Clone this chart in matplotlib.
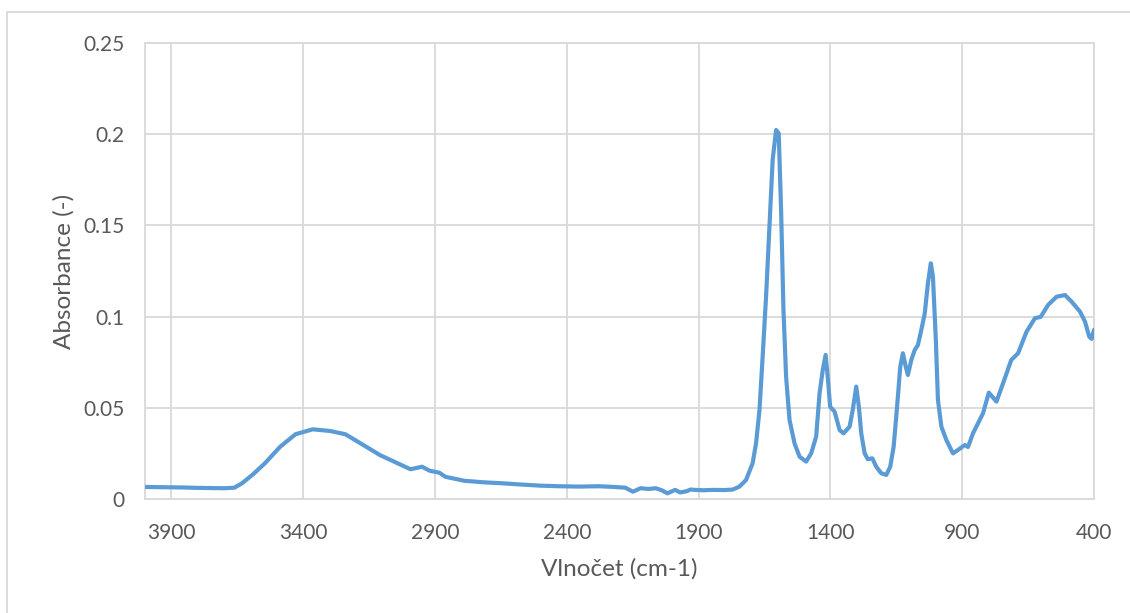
import matplotlib
matplotlib.use("Agg")
import matplotlib.pyplot as plt
from matplotlib.lines import Line2D

# FTIR absorbance spectrum
wavenumber = [
    4000, 3950, 3900, 3850, 3800, 3750, 3700, 3661, 3632, 3589, 3545, 3487,
    3429, 3364, 3298, 3240, 3182, 3109, 3036, 2993, 2949, 2920, 2883, 2861,
    2789, 2720, 2643, 2570, 2498, 2430, 2353, 2280, 2220, 2178, 2149, 2120,
    2090, 2062, 2040, 2018, 1989, 1970, 1947, 1930, 1916, 1880, 1844, 1800,
    1770, 1745, 1720, 1695, 1682, 1669, 1657, 1644, 1631, 1619, 1606, 1596,
    1587, 1578, 1568, 1555, 1536, 1517, 1492, 1473, 1454, 1441, 1429, 1418,
    1408, 1401, 1384, 1365, 1350, 1327, 1315, 1302, 1292, 1283, 1270, 1258,
    1241, 1226, 1207, 1188, 1173, 1160, 1147, 1135, 1125, 1114, 1106, 1093,
    1080, 1068, 1055, 1042, 1030, 1019, 1011, 1000, 992, 979, 960, 935, 916,
    890, 878, 859, 840, 821, 799, 770, 745, 714, 688, 656, 624, 602, 574,
    542, 510, 485, 453, 434, 418, 409, 400,
]
absorbance = [
    0.0066, 0.0065, 0.0064, 0.0063, 0.0061, 0.0060, 0.0059, 0.0062, 0.0086,
    0.0137, 0.0196, 0.0287, 0.0355, 0.0382, 0.0373, 0.0355, 0.0305, 0.0241,
    0.0192, 0.0163, 0.0177, 0.0155, 0.0144, 0.0122, 0.0100, 0.0092, 0.0086,
    0.0079, 0.0073, 0.0070, 0.0068, 0.0070, 0.0066, 0.0062, 0.0040, 0.0059,
    0.0055, 0.0059, 0.0048, 0.0031, 0.0050, 0.0036, 0.0042, 0.0052, 0.0050,
    0.0048, 0.0050, 0.0049, 0.0052, 0.0068, 0.0104, 0.0196, 0.0305, 0.0488,
    0.0780, 0.1109, 0.1493, 0.1859, 0.2023, 0.2005, 0.1584, 0.1036, 0.0670,
    0.0433, 0.0305, 0.0232, 0.0205, 0.0250, 0.0342, 0.0580, 0.0707, 0.0790,
    0.0634, 0.0506, 0.0479, 0.0378, 0.0360, 0.0397, 0.0490, 0.0616, 0.0506,
    0.0360, 0.0250, 0.0218, 0.0223, 0.0177, 0.0141, 0.0132, 0.0177, 0.0287,
    0.0506, 0.0725, 0.0799, 0.0725, 0.0680, 0.0762, 0.0817, 0.0844, 0.0927,
    0.1018, 0.1183, 0.1292, 0.1219, 0.0872, 0.0543, 0.0397, 0.0323, 0.0250,
    0.0269, 0.0296, 0.0285, 0.0360, 0.0415, 0.0470, 0.0583, 0.0534, 0.0634,
    0.0762, 0.0799, 0.0917, 0.0991, 0.0999, 0.1064, 0.1109, 0.1118, 0.1082,
    0.1027, 0.0972, 0.0890, 0.0878, 0.0927,
]

x_ticks = [3900, 3400, 2900, 2400, 1900, 1400, 900, 400]
y_ticks = [0, 0.05, 0.1, 0.15, 0.2, 0.25]
y_tick_labels = ["0", "0.05", "0.1", "0.15", "0.2", "0.25"]

text_color = "#595959"
grid_color = "#D9D9D9"
line_color = "#5B9BD5"
font = ["Lato", "DejaVu Sans"]

fig = plt.figure(figsize=(11.3, 6.13), dpi=100)
ax = fig.add_axes([145 / 1130, 114 / 613, 949 / 1130, 456 / 613])

ax.plot(wavenumber, absorbance, color=line_color, linewidth=3.0,
        solid_joinstyle="round", solid_capstyle="round", zorder=3)

ax.set_xlim(4000, 400)
ax.set_ylim(0, 0.25)
ax.set_xticks(x_ticks)
ax.set_yticks(y_ticks)
ax.set_yticklabels(y_tick_labels)
ax.grid(True, color=grid_color, linewidth=1.3)
ax.set_axisbelow(True)
ax.tick_params(length=0, labelsize=15, labelcolor=text_color)
ax.tick_params(axis="x", pad=17)
ax.tick_params(axis="y", pad=15)
for lab in ax.get_xticklabels() + ax.get_yticklabels():
    lab.set_family(font)
for side in ["left", "bottom", "right", "top"]:
    ax.spines[side].set_color(grid_color)
    ax.spines[side].set_linewidth(1.3)

ax.set_xlabel("Vlnočet (cm-1)", fontsize=17.5, color=text_color,
              family=font, labelpad=11)
ax.set_ylabel("Absorbance (-)", fontsize=17.5, color=text_color,
              family=font, labelpad=6)

# chart area outline
fig.add_artist(Line2D([7 / 1130, 7 / 1130], [0, 1 - 12 / 613],
                      transform=fig.transFigure, color=grid_color, linewidth=1.3))
fig.add_artist(Line2D([7 / 1130, 1], [1 - 12 / 613, 1 - 12 / 613],
                      transform=fig.transFigure, color=grid_color, linewidth=1.3))

fig.savefig("out.png", dpi=100, facecolor="white")
